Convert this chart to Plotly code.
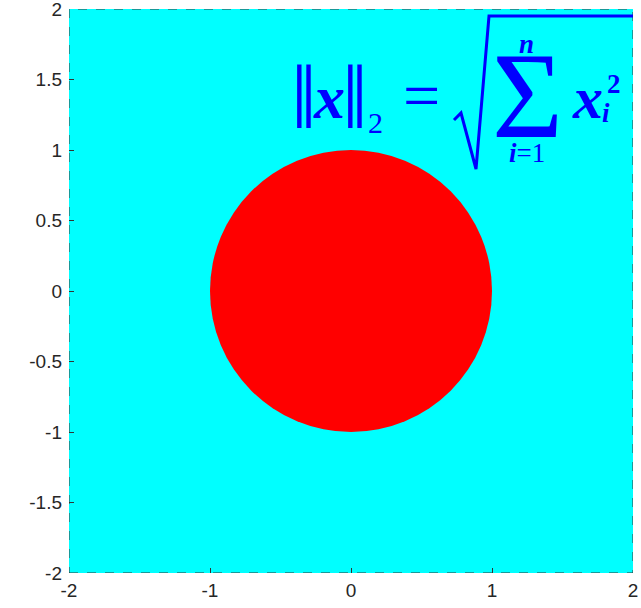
import plotly.graph_objects as go

# ---- data ----
x_range = [-2, 2]
y_range = [-2, 2]
circle_center = [0, 0]
circle_radius = 1
x_ticks = [-2, -1, 0, 1, 2]
x_tick_labels = ["-2", "-1", "0", "1", "2"]
y_ticks = [-2, -1.5, -1, -0.5, 0, 0.5, 1, 1.5, 2]
y_tick_labels = ["-2", "-1.5", "-1", "-0.5", "0", "0.5", "1", "1.5", "2"]

W, H = 641, 608
L, R, T, B = 69, 8, 9, 35
pw, ph = W - L - R, H - T - B

def px(xp):
    return (xp - L) / pw

def py(yp):
    return (H - B - yp) / ph

CYAN = "#00FFFF"
RED = "#FF0000"
BLUE = "#0000FF"

fig = go.Figure()
fig.add_trace(go.Scatter(x=x_range, y=y_range, mode="markers",
                         marker=dict(opacity=0), hoverinfo="skip", showlegend=False,
                         cliponaxis=False))

shapes = [
    dict(type="rect", xref="x", yref="y", x0=x_range[0], x1=x_range[1],
         y0=y_range[0], y1=y_range[1], fillcolor=CYAN, line=dict(width=0), layer="below"),
    dict(type="circle", xref="x", yref="y",
         x0=circle_center[0] - circle_radius, x1=circle_center[0] + circle_radius,
         y0=circle_center[1] - circle_radius, y1=circle_center[1] + circle_radius,
         fillcolor=RED, line=dict(width=0), layer="below"),
    dict(type="rect", xref="x", yref="y", x0=x_range[0], x1=x_range[1],
         y0=y_range[0], y1=y_range[1], line=dict(color="#333333", width=1, dash="dash")),
    # radical sign of the formula
    dict(type="path", xref="paper", yref="paper",
         path=f"M {px(454)},{py(120)} L {px(461)},{py(113)} L {px(476)},{py(169)} "
              f"L {px(489)},{py(16)} L {px(633)},{py(16)}",
         line=dict(color=BLUE, width=3)),
]

SERIF = "Liberation Serif"
def ann(text, xp, yp, size, xanchor="center"):
    return dict(text=text, x=px(xp), y=py(yp), xref="paper", yref="paper",
                xanchor=xanchor, yanchor="middle", showarrow=False,
                font=dict(family=SERIF, size=size, color=BLUE))

annotations = [
    ann("‖", 304, 97, 92),
    ann("<b><i>x</i></b>", 329, 97, 62),
    ann("‖", 355, 97, 92),
    ann("2", 375, 122, 30),
    ann("=", 421, 95, 66),
    ann("Σ", 527, 95, 122),
    ann("<b><i>n</i></b>", 526, 44, 27),
    ann("<b><i>i</i></b>=1", 527, 153, 27),
    ann("<b><i>x</i></b>", 587, 98, 60),
    ann("<b>2</b>", 614, 84, 27),
    ann("<b><i>i</i></b>", 606, 113, 27),
]

axis_common = dict(showgrid=False, zeroline=False, showline=False, ticks="inside",
                   ticklen=5, tickcolor="#333333", automargin=False,
                   ticklabeloverflow="allow",
                   tickfont=dict(family="Liberation Sans", size=19, color="#262626"))

fig.update_layout(
    width=W, height=H, autosize=False,
    margin=dict(l=L, r=R, t=T, b=B),
    paper_bgcolor="white", plot_bgcolor="white",
    showlegend=False,
    xaxis=dict(range=x_range, tickvals=x_ticks, ticktext=x_tick_labels,
               ticklabelstandoff=4, **axis_common),
    yaxis=dict(range=y_range, tickvals=y_ticks, ticktext=y_tick_labels,
               ticklabelstandoff=6, **axis_common),
    shapes=shapes,
    annotations=annotations,
)

fig.write_html("out.html", config={"displayModeBar": False},
               post_script="document.body.style.margin='0';")
